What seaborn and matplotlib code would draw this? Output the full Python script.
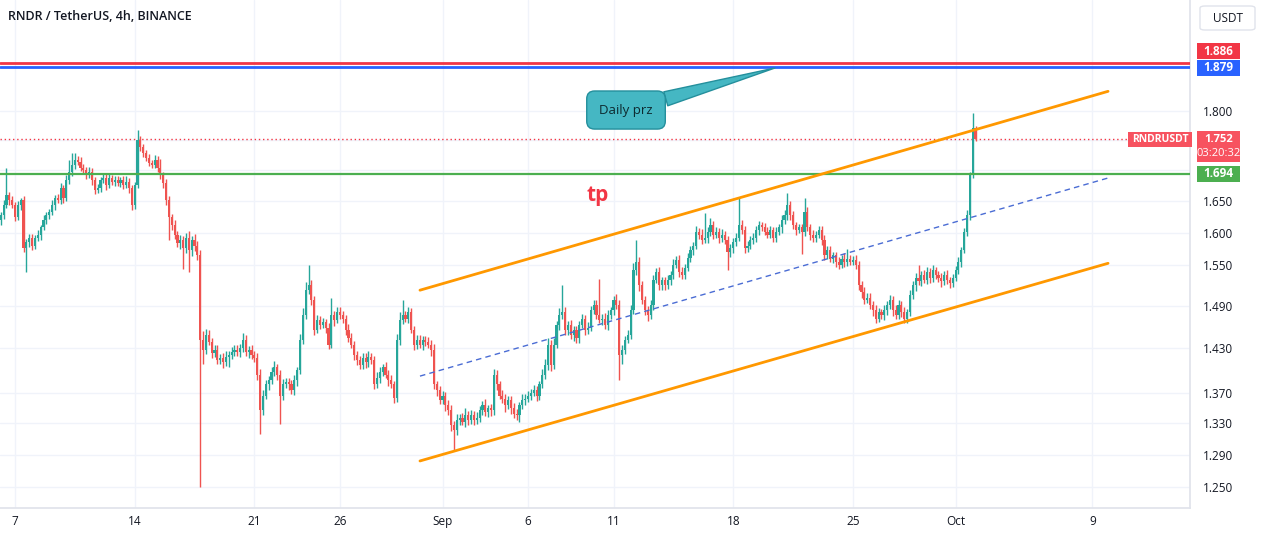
import pandas as pd
import numpy as np
import seaborn as sns
import matplotlib.pyplot as plt
import matplotlib.dates as mdates
from matplotlib.patches import Rectangle, FancyBboxPatch

# 4h candles of RNDR/USDT, first bar 2023-08-06 04:00
first_open = 1.620
closes = [
    1.627, 1.643, 1.659, 1.651, 1.643,               # Aug 6
    1.624, 1.643, 1.651, 1.576, 1.585, 1.592,        # Aug 7
    1.580, 1.592, 1.597, 1.608, 1.620, 1.627,        # Aug 8
    1.632, 1.643, 1.654, 1.651, 1.670, 1.654,        # Aug 9
    1.684, 1.697, 1.709, 1.717, 1.714, 1.704,        # Aug 10
    1.700, 1.692, 1.697, 1.684, 1.667, 1.670,        # Aug 11
    1.684, 1.687, 1.675, 1.687, 1.681, 1.684,        # Aug 12
    1.679, 1.684, 1.675, 1.681, 1.670, 1.643,        # Aug 13
    1.675, 1.750, 1.738, 1.728, 1.720, 1.712,        # Aug 14
    1.709, 1.717, 1.704, 1.692, 1.679, 1.651,        # Aug 15
    1.624, 1.612, 1.597, 1.584, 1.589, 1.576,        # Aug 16
    1.592, 1.573, 1.589, 1.580, 1.565, 1.442,        # Aug 17
    1.428, 1.449, 1.439, 1.424, 1.428, 1.414,        # Aug 18
    1.417, 1.411, 1.418, 1.421, 1.425, 1.428,        # Aug 19
    1.425, 1.431, 1.442, 1.425, 1.428, 1.421,        # Aug 20
    1.417, 1.394, 1.347, 1.366, 1.381, 1.387,        # Aug 21
    1.398, 1.404, 1.394, 1.366, 1.381, 1.384,        # Aug 22
    1.381, 1.373, 1.387, 1.400, 1.442, 1.477,        # Aug 23
    1.513, 1.520, 1.499, 1.456, 1.470, 1.463,        # Aug 24
    1.467, 1.459, 1.435, 1.477, 1.470, 1.481,        # Aug 25
    1.477, 1.472, 1.456, 1.445, 1.435, 1.421,        # Aug 26
    1.414, 1.407, 1.417, 1.411, 1.418, 1.414,        # Aug 27
    1.381, 1.390, 1.398, 1.404, 1.394, 1.387,        # Aug 28
    1.381, 1.363, 1.442, 1.470, 1.477, 1.472,        # Aug 29
    1.481, 1.456, 1.435, 1.442, 1.435, 1.442,        # Aug 30
    1.439, 1.435, 1.428, 1.381, 1.373, 1.360,        # Aug 31
    1.366, 1.353, 1.347, 1.328, 1.321, 1.334,        # Sep 1
    1.337, 1.332, 1.341, 1.334, 1.340, 1.334,        # Sep 2
    1.337, 1.347, 1.353, 1.344, 1.349, 1.347,        # Sep 3
    1.394, 1.381, 1.366, 1.362, 1.353, 1.360,        # Sep 4
    1.349, 1.342, 1.340, 1.353, 1.360, 1.362,        # Sep 5
    1.366, 1.370, 1.373, 1.366, 1.381, 1.394,        # Sep 6
    1.407, 1.435, 1.407, 1.435, 1.463, 1.477,        # Sep 7
    1.481, 1.456, 1.463, 1.449, 1.456, 1.445,        # Sep 8
    1.463, 1.472, 1.456, 1.459, 1.484, 1.491,        # Sep 9
    1.477, 1.470, 1.472, 1.463, 1.477, 1.484,        # Sep 10
    1.499, 1.491, 1.421, 1.428, 1.442, 1.449,        # Sep 11
    1.484, 1.543, 1.555, 1.520, 1.499, 1.484,        # Sep 12
    1.477, 1.491, 1.528, 1.540, 1.520, 1.528,        # Sep 13
    1.520, 1.528, 1.536, 1.551, 1.558, 1.540,        # Sep 14
    1.536, 1.546, 1.561, 1.573, 1.580, 1.601,        # Sep 15
    1.597, 1.589, 1.592, 1.601, 1.612, 1.597,        # Sep 16
    1.601, 1.592, 1.597, 1.589, 1.570, 1.576,        # Sep 17
    1.586, 1.592, 1.612, 1.604, 1.576, 1.580,        # Sep 18
    1.589, 1.592, 1.604, 1.612, 1.608, 1.601,        # Sep 19
    1.597, 1.604, 1.592, 1.601, 1.608, 1.620,        # Sep 20
    1.627, 1.643, 1.627, 1.612, 1.604, 1.608,        # Sep 21
    1.601, 1.632, 1.608, 1.597, 1.592, 1.597,        # Sep 22
    1.604, 1.589, 1.565, 1.573, 1.560, 1.565,        # Sep 23
    1.555, 1.551, 1.560, 1.555, 1.560, 1.555,        # Sep 24
    1.558, 1.551, 1.520, 1.510, 1.499, 1.502,        # Sep 25
    1.491, 1.484, 1.472, 1.481, 1.477, 1.484,        # Sep 26
    1.491, 1.499, 1.484, 1.477, 1.491, 1.481,        # Sep 27
    1.472, 1.481, 1.506, 1.520, 1.531, 1.526,        # Sep 28
    1.536, 1.528, 1.540, 1.531, 1.543, 1.536,        # Sep 29
    1.531, 1.526, 1.536, 1.528, 1.523, 1.531,        # Sep 30
    1.543, 1.555, 1.573, 1.601, 1.627, 1.692,        # Oct 1
    1.771, 1.752,                                    # Oct 2
]
# wick lengths above / below the body, in thousandths
upper_wick = [
    6, 8, 45, 5, 6,
    5, 7, 4, 6, 5, 6,
    6, 5, 7, 4, 8, 5,
    5, 8, 6, 7, 9, 5,
    8, 20, 19, 12, 6, 7,
    6, 5, 8, 6, 5, 7,
    5, 7, 6, 8, 5, 6,
    6, 5, 7, 10, 6, 5,
    6, 17, 8, 6, 5, 7,
    5, 8, 6, 14, 5, 6,
    6, 5, 7, 6, 8, 6,
    7, 10, 6, 9, 7, 8,
    12, 8, 6, 5, 7, 6,
    5, 6, 8, 5, 7, 6,
    6, 5, 10, 6, 5, 7,
    5, 6, 7, 8, 6, 5,
    6, 8, 5, 6, 7, 5,
    5, 6, 7, 5, 8, 10,
    12, 30, 8, 6, 7, 5,
    6, 5, 7, 25, 6, 8,
    7, 6, 5, 8, 6, 5,
    6, 5, 7, 6, 8, 5,
    5, 7, 6, 5, 7, 6,
    6, 5, 8, 12, 22, 6,
    7, 6, 5, 7, 6, 5,
    5, 7, 6, 8, 5, 6,
    6, 5, 7, 6, 5, 8,
    5, 6, 8, 5, 7, 6,
    7, 5, 6, 8, 5, 6,
    8, 6, 5, 7, 6, 5,
    5, 7, 6, 5, 8, 6,
    6, 5, 7, 6, 5, 8,
    8, 10, 7, 9, 6, 10,
    39, 8, 6, 7, 5, 6,
    6, 7, 5, 8, 6, 7,
    7, 53, 6, 8, 7, 5,
    6, 8, 7, 6, 5, 7,
    8, 10, 34, 7, 6, 5,
    6, 7, 8, 6, 7, 5,
    5, 7, 6, 8, 6, 7,
    7, 6, 8, 7, 6, 10,
    6, 8, 38, 7, 10, 6,
    7, 6, 8, 6, 5, 7,
    6, 7, 44, 8, 6, 7,
    6, 8, 7, 6, 5, 7,
    7, 6, 5, 8, 6, 7,
    8, 20, 6, 7, 5, 6,
    6, 22, 8, 6, 7, 5,
    7, 6, 8, 6, 7, 5,
    5, 7, 6, 8, 15, 6,
    6, 7, 5, 6, 8, 7,
    7, 6, 8, 6, 5, 7,
    6, 7, 5, 8, 7, 6,
    7, 5, 8, 6, 7, 19,
    6, 7, 8, 6, 7, 5,
    5, 7, 6, 7, 5, 6,
    6, 7, 5, 6, 8, 5,
    26, 4,
]
lower_wick = [
    8, 6, 5, 7, 5,
    6, 5, 8, 6, 36, 7,
    7, 6, 5, 8, 4, 6,
    6, 5, 7, 4, 6, 8,
    5, 7, 6, 8, 5, 6,
    7, 6, 5, 8, 6, 5,
    6, 5, 7, 5, 6, 7,
    5, 7, 6, 5, 8, 8,
    6, 5, 6, 7, 5, 6,
    6, 5, 7, 6, 8, 7,
    35, 8, 7, 6, 10, 31,
    7, 33, 9, 8, 7, 192,
    20, 6, 5, 8, 6, 5,
    6, 8, 5, 14, 6, 5,
    5, 7, 6, 5, 8, 6,
    6, 7, 31, 6, 5, 7,
    5, 6, 7, 37, 6, 5,
    7, 5, 6, 8, 5, 6,
    6, 5, 8, 7, 5, 6,
    5, 7, 6, 5, 8, 5,
    5, 6, 7, 6, 5, 7,
    7, 6, 5, 8, 6, 5,
    6, 5, 7, 6, 5, 8,
    5, 7, 6, 8, 6, 5,
    6, 5, 7, 6, 5, 7,
    6, 5, 8, 6, 7, 5,
    5, 7, 6, 8, 25, 6,
    6, 5, 7, 6, 5, 7,
    5, 6, 7, 5, 6, 8,
    6, 7, 5, 6, 8, 5,
    7, 5, 6, 8, 5, 6,
    5, 6, 5, 7, 6, 5,
    6, 7, 8, 6, 5, 7,
    6, 8, 7, 6, 9, 7,
    7, 5, 8, 6, 5, 6,
    6, 5, 7, 6, 8, 6,
    7, 6, 34, 12, 6, 5,
    6, 5, 7, 8, 6, 7,
    8, 6, 7, 5, 6, 7,
    6, 5, 7, 6, 5, 8,
    6, 7, 5, 6, 7, 5,
    7, 6, 5, 8, 6, 7,
    6, 8, 6, 7, 27, 8,
    7, 6, 5, 6, 8, 6,
    5, 7, 6, 8, 6, 5,
    6, 5, 7, 6, 5, 8,
    6, 7, 8, 6, 7, 5,
    34, 7, 6, 8, 6, 7,
    6, 8, 7, 6, 5, 7,
    7, 6, 5, 7, 6, 5,
    5, 6, 7, 8, 6, 5,
    6, 8, 7, 5, 6, 7,
    7, 6, 8, 6, 5, 7,
    6, 7, 5, 6, 8, 6,
    7, 5, 6, 8, 6, 7,
    6, 8, 5, 6, 7, 6,
    5, 6, 7, 5, 6, 8,
    5, 3,
]

# drawings
channel_times = ['2023-08-30 16:20', '2023-10-09 22:00']
channel_upper = [1.513, 1.835]
channel_lower = [1.282, 1.553]
channel_mid = [1.392, 1.687]
level_red = 1.886
level_blue = 1.879
level_green = 1.694
last_price = 1.752

date_ticks = ['2023-08-07', '2023-08-14', '2023-08-21', '2023-08-26', '2023-09-01',
              '2023-09-06', '2023-09-11', '2023-09-18', '2023-09-25', '2023-10-01', '2023-10-09']
date_labels = ['7', '14', '21', '26', 'Sep', '6', '11', '18', '25', 'Oct', '9']
price_ticks = [1.25, 1.29, 1.33, 1.37, 1.43, 1.49, 1.55, 1.60, 1.65, 1.70, 1.75, 1.80]
price_labels = ['1.250', '1.290', '1.330', '1.370', '1.430', '1.490', '1.550', '1.600',
                '1.650', '1.700', '', '1.800']  # 1.750 sits under the last-price tag

sns.set_theme(style='white')
plt.rcParams['font.family'] = ['Open Sans', 'DejaVu Sans']

W, H = 1261, 535
fig = plt.figure(figsize=(W / 100, H / 100), dpi=100)
ax = fig.add_axes([0, 27 / H, 1190 / W, 508 / H])

t = mdates.date2num(pd.date_range('2023-08-06 04:00', periods=len(closes), freq='4h'))
c = np.array(closes)
o = np.array([first_open] + closes[:-1])
hi = np.maximum(o, c) + np.array(upper_wick) / 1000
lo = np.minimum(o, c) - np.array(lower_wick) / 1000
up = c >= o
col = np.where(up, '#26a69a', '#ef5350')

ax.set_yscale('log')
ax.vlines(t, lo, hi, colors=col, linewidth=1, zorder=3)
ax.bar(t, np.maximum(np.abs(c - o), 0.0015), bottom=np.minimum(o, c), width=0.125,
       color=col, linewidth=0, zorder=4)

# horizontal levels
ax.axhline(level_red, color='#f23645', lw=2, zorder=5)
ax.axhline(level_blue, color='#2962ff', lw=2, zorder=5)
ax.axhline(level_green, color='#4caf50', lw=1.6, zorder=5)
ax.axhline(last_price, color='#f23645', lw=1, ls=(0, (1, 2)), zorder=2)

# channel
ct = mdates.date2num(pd.to_datetime(channel_times))
sns.lineplot(x=ct, y=channel_upper, ax=ax, color='#ff9800', lw=2, zorder=6)
sns.lineplot(x=ct, y=channel_lower, ax=ax, color='#ff9800', lw=2, zorder=6)
sns.lineplot(x=ct, y=channel_mid, ax=ax, color='#4a6cd4', lw=1, ls=(0, (4, 3)), zorder=6)

ax.set_xlim(mdates.date2num(pd.Timestamp('2023-08-06 02:57')),
            mdates.date2num(pd.Timestamp('2023-10-14 17:00')))
ax.set_ylim(1.2248, 2.005)

ax.set_xticks(mdates.date2num(pd.to_datetime(date_ticks)))
ax.set_xticklabels(date_labels)
ax.yaxis.set_minor_locator(plt.NullLocator())
ax.set_yticks(price_ticks)
ax.set_yticklabels(price_labels)
ax.yaxis.tick_right()
ax.tick_params(axis='x', length=0, pad=5, labelsize=8.5, labelcolor='#131722')
ax.tick_params(axis='y', length=0, pad=9, labelsize=8.5, labelcolor='#131722')
ax.grid(True, color='#f0f3fa', lw=1, zorder=0)
ax.set_xlabel('')
ax.set_ylabel('')
for s in ['top', 'left']:
    ax.spines[s].set_visible(False)
for s in ['right', 'bottom']:
    ax.spines[s].set_color('#e0e3eb')

# text drawings
ax.text(mdates.date2num(pd.Timestamp('2023-09-10 02:00')), 1.658, 'tp', color='#f23645',
        fontsize=15, fontweight='bold', ha='center', va='center', zorder=7)
ax.annotate('Daily prz',
            xy=(mdates.date2num(pd.Timestamp('2023-09-20 10:30')), 1.877),
            xytext=(mdates.date2num(pd.Timestamp('2023-09-11 17:30')), 1.802),
            ha='center', va='center', fontsize=9.5, color='#0d2a30', zorder=8,
            bbox=dict(boxstyle='round,pad=0.95,rounding_size=0.6', fc='#45b7c3', ec='#248f9c', lw=1),
            arrowprops=dict(arrowstyle='wedge,tail_width=1.1,shrink_factor=0.5',
                            fc='#45b7c3', ec='#248f9c', lw=1, shrinkA=0, shrinkB=0))

fig.text(8 / W, 1 - 16 / H, 'RNDR / TetherUS, 4h, BINANCE', fontsize=9,
         fontweight='semibold', color='#131722', va='center', ha='left')


def ypix(p):
    return H - ax.transData.transform((ax.get_xlim()[0], p))[1]


def tag(x0, yc, w, h, lines, color, fs=8.5, weight='bold'):
    fig.add_artist(Rectangle((x0 / W, 1 - (yc + h / 2) / H), w / W, h / H,
                             transform=fig.transFigure, fc=color, ec='none', zorder=10))
    n = len(lines)
    for i, (txt, wt) in enumerate(lines):
        yy = yc + (i - (n - 1) / 2) * 14
        fig.text((x0 + w / 2) / W, 1 - yy / H, txt, color='white', fontsize=fs,
                 fontweight=wt, ha='center', va='center', zorder=11)


tag(1197, ypix(level_red) - 12, 43, 16, [(f'{level_red:.3f}', 'bold')], '#f23645')
tag(1197, ypix(level_blue) + 1, 43, 16, [(f'{level_blue:.3f}', 'bold')], '#2962ff')
tag(1197, ypix(level_green), 43, 16, [(f'{level_green:.3f}', 'bold')], '#4caf50')
tag(1197, ypix(last_price) + 7.5, 43, 31,
    [(f'{last_price:.3f}', 'bold'), ('03:20:32', 'normal')], '#f7525f', fs=8)
tag(1128, ypix(last_price), 64, 15, [('RNDRUSDT', 'bold')], '#f7525f', fs=7.5)

fig.add_artist(FancyBboxPatch((1200 / W, 1 - 30 / H), 55 / W, 24 / H,
                              boxstyle='round,pad=0,rounding_size=0.004',
                              transform=fig.transFigure, fc='white', ec='#e0e3eb', lw=1))
fig.text(1227.5 / W, 1 - 18 / H, 'USDT', fontsize=8.5, color='#131722', ha='center', va='center')

fig.savefig('out.png', dpi=100)
